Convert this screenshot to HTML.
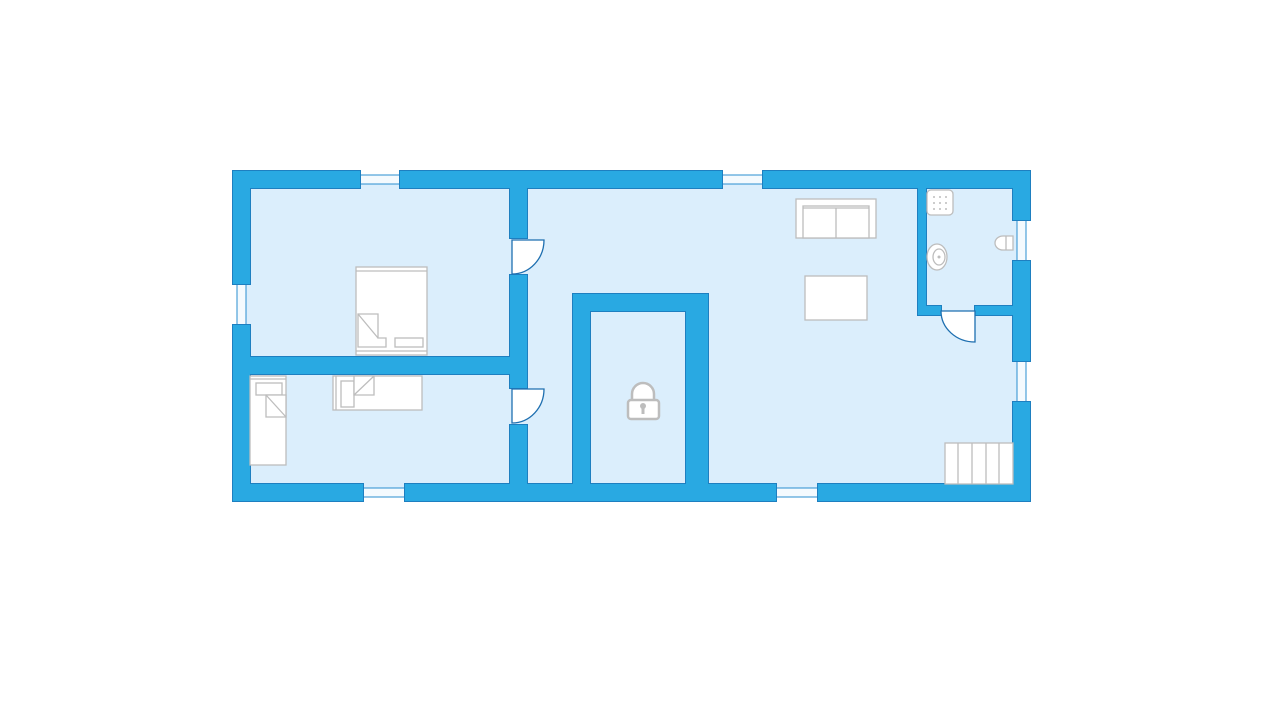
<!DOCTYPE html>
<html><head><meta charset="utf-8"><style>html,body{margin:0;padding:0;background:#fff;width:1280px;height:720px;overflow:hidden}</style></head>
<body>
<svg width="1280" height="720" viewBox="0 0 1280 720" xmlns="http://www.w3.org/2000/svg">
<defs>
<g id="walls">
<rect x="233" y="171" width="127" height="17"/>
<rect x="400" y="171" width="322" height="17"/>
<rect x="763" y="171" width="267" height="17"/>
<rect x="233" y="484" width="130" height="17"/>
<rect x="405" y="484" width="371" height="17"/>
<rect x="818" y="484" width="212" height="17"/>
<rect x="233" y="171" width="17" height="113"/>
<rect x="233" y="325" width="17" height="176"/>
<rect x="1013" y="171" width="17" height="49"/>
<rect x="1013" y="261" width="17" height="100"/>
<rect x="1013" y="402" width="17" height="99"/>
<rect x="250" y="357" width="277" height="17"/>
<rect x="510" y="171" width="17" height="67"/>
<rect x="510" y="275" width="17" height="113"/>
<rect x="510" y="425" width="17" height="76"/>
<path d="M573 294 H708 V501 H686 V311 H590 V501 H573 Z"/>
<rect x="918" y="171" width="8" height="144"/>
<rect x="918" y="306" width="23" height="9"/>
<rect x="975" y="306" width="55" height="9"/>
</g>
</defs>
<rect x="240" y="178" width="782" height="316" fill="#dbeefc"/>
<g fill="#f4fafe" stroke="#2a8fd0" stroke-width="1">
<rect x="360" y="175" width="40" height="9"/>
<rect x="722" y="175" width="41" height="9"/>
<rect x="363" y="488" width="42" height="9"/>
<rect x="776" y="488" width="42" height="9"/>
<rect x="237" y="284" width="9" height="41"/>
<rect x="1017" y="220" width="9" height="41"/>
<rect x="1017" y="361" width="9" height="41"/>
</g>
<use href="#walls" fill="#1e7fc0" stroke="#1e7fc0" stroke-width="2"/>
<use href="#walls" fill="#29a9e2"/>
<g fill="#fff" stroke="#1e6fb0" stroke-width="1.3">
<path d="M512 240 H544 A32 34 0 0 1 512 274 Z"/>
<path d="M512 389 H544 A32 34 0 0 1 512 423 Z"/>
<path d="M975 311 V342 A34 31 0 0 1 941 311 Z"/>
</g>
<g fill="#fff" stroke="#bdbdbd" stroke-width="1.3">
<rect x="356" y="267" width="71" height="88"/>
<line x1="356" y1="271" x2="427" y2="271"/>
<line x1="356" y1="351" x2="427" y2="351"/>
<path d="M358 314 H378 V338 H386 V347 H358 Z"/>
<line x1="358" y1="314" x2="378" y2="338"/>
<rect x="395" y="338" width="28" height="9"/>
<rect x="250" y="376" width="36" height="89"/>
<line x1="250" y1="379" x2="286" y2="379"/>
<rect x="256" y="383" width="26" height="12"/>
<path d="M266 395 H286 V417 H266 Z"/>
<line x1="266" y1="395" x2="286" y2="417"/>
<rect x="333" y="376" width="89" height="34"/>
<line x1="336" y1="376" x2="336" y2="410"/>
<rect x="341" y="381" width="13" height="26"/>
<path d="M354 376 H374 V395 H354 Z"/>
<line x1="354" y1="395" x2="374" y2="376"/>
<rect x="796" y="199" width="80" height="39"/>
<rect x="803" y="206" width="66" height="32"/>
<line x1="836" y1="208" x2="836" y2="238"/>
<line x1="803" y1="208" x2="869" y2="208"/>
<rect x="805" y="276" width="62" height="44"/>
<rect x="945" y="443" width="68" height="41"/>
<line x1="958" y1="443" x2="958" y2="484"/>
<line x1="972" y1="443" x2="972" y2="484"/>
<line x1="986" y1="443" x2="986" y2="484"/>
<line x1="999" y1="443" x2="999" y2="484"/>
<rect x="927" y="190" width="26" height="25" rx="4"/>
<ellipse cx="937" cy="257" rx="10" ry="13"/>
<ellipse cx="939" cy="257" rx="6" ry="8"/>
<path d="M1013 236 H1003 A8 7 0 0 0 1003 250 H1013 Z"/>
<line x1="1006" y1="236" x2="1006" y2="250"/>
<path d="M632 401 V394 A11 11 0 0 1 654 394 V401" fill="#fff" stroke-width="2.5"/>
<rect x="628" y="400" width="31" height="19" rx="3" stroke-width="2.5"/>
</g>
<g fill="#bdbdbd">
<circle cx="643" cy="406" r="3"/><rect x="641.5" y="406" width="3" height="8"/>
<circle cx="934" cy="197" r="1"/><circle cx="940" cy="197" r="1"/><circle cx="946" cy="197" r="1"/>
<circle cx="934" cy="203" r="1"/><circle cx="940" cy="203" r="1"/><circle cx="946" cy="203" r="1"/>
<circle cx="934" cy="209" r="1"/><circle cx="940" cy="209" r="1"/><circle cx="946" cy="209" r="1"/>
<circle cx="939" cy="257" r="1.5"/>
</g>
</svg>
</body></html>
